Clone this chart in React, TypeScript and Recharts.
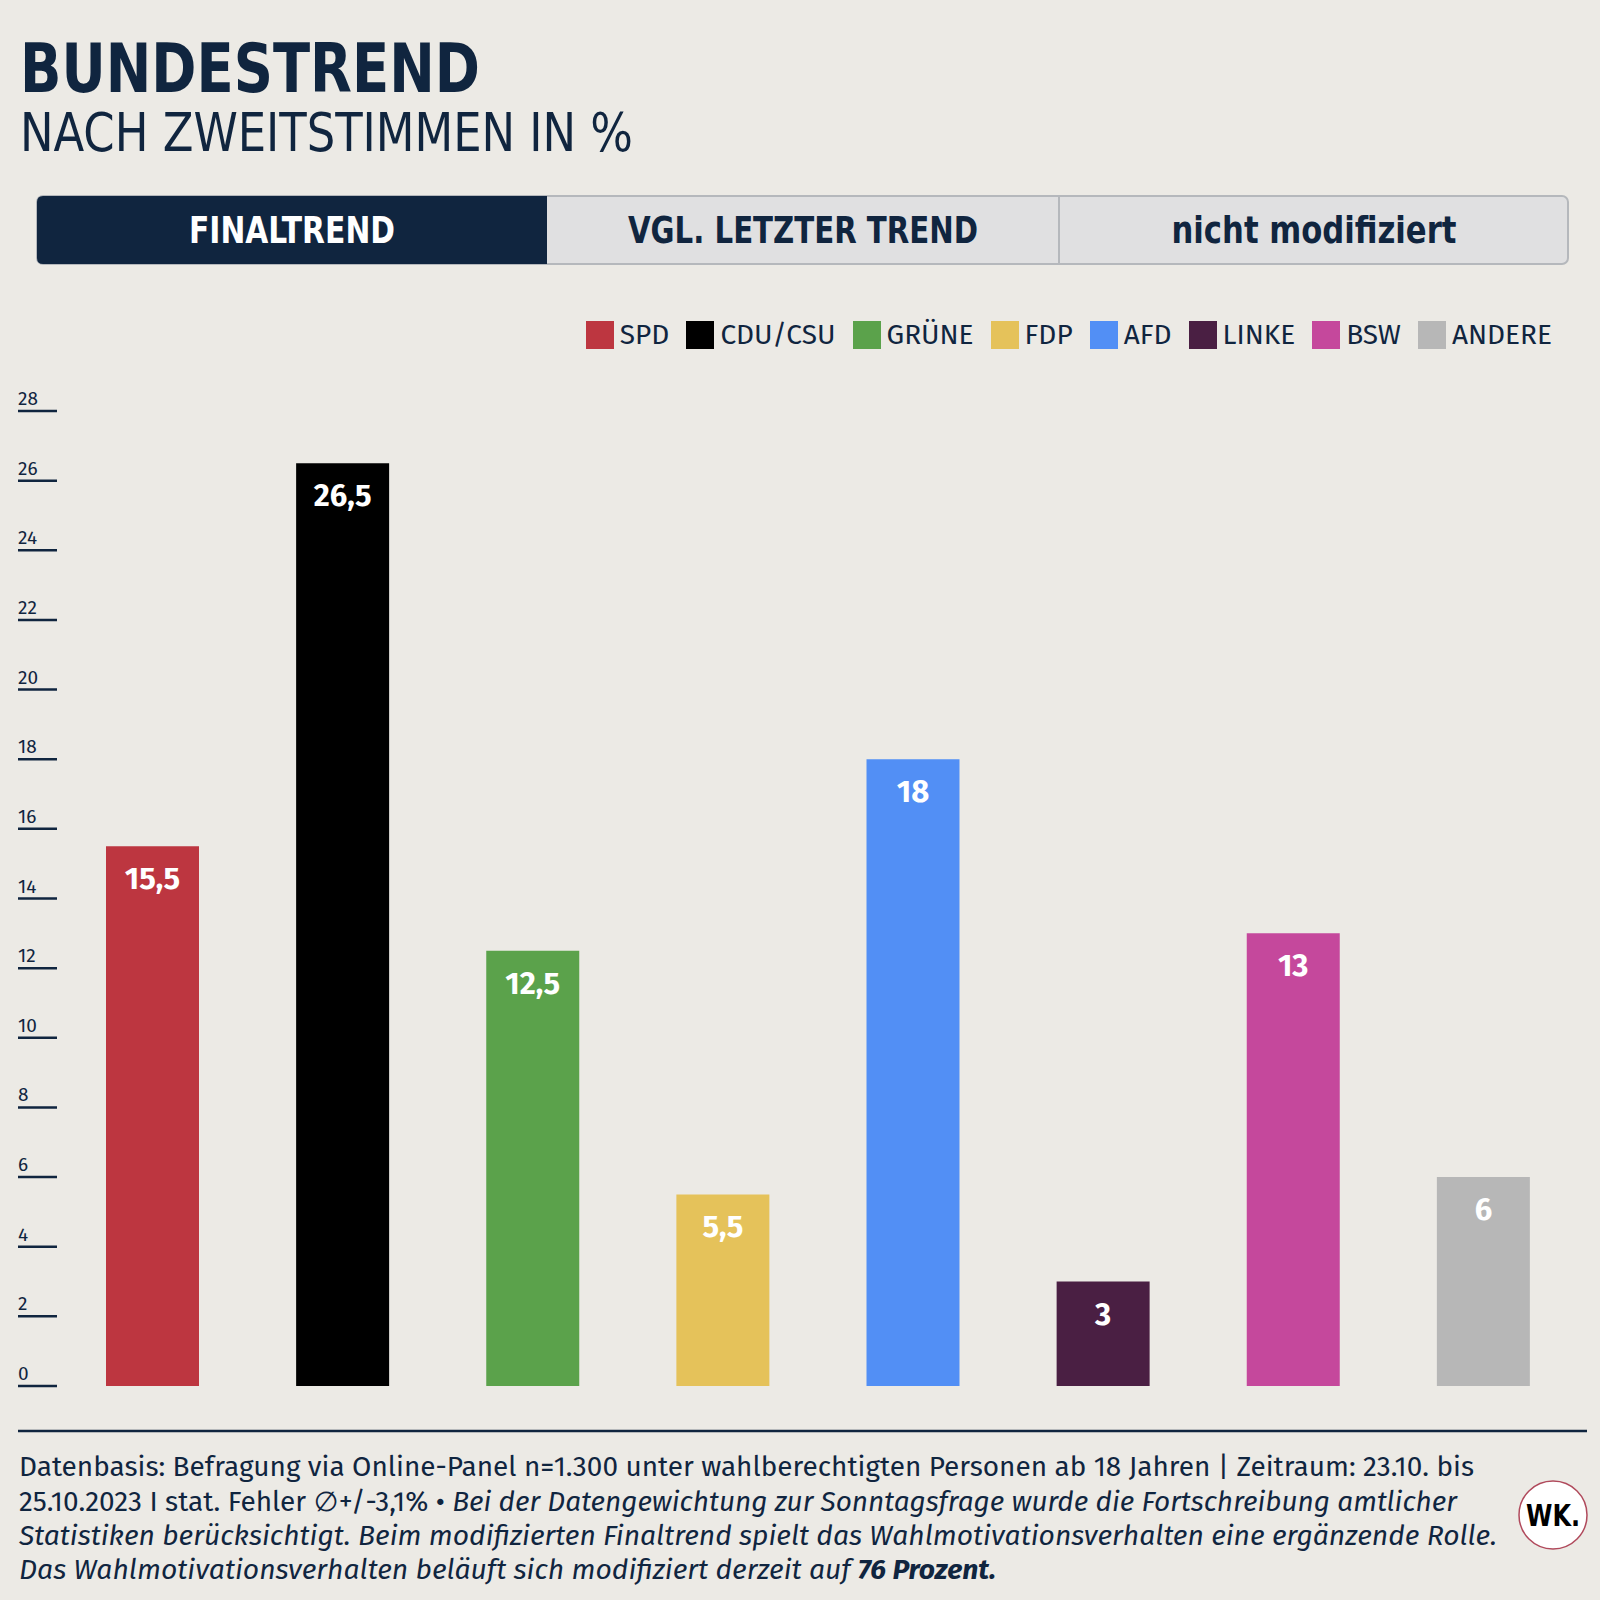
import { BarChart, Bar, XAxis, YAxis, Cell, LabelList } from 'recharts';

const parties = ['SPD', 'CDU/CSU', 'GRÜNE', 'FDP', 'AFD', 'LINKE', 'BSW', 'ANDERE'];
const shares = [15.5, 26.5, 12.5, 5.5, 18, 3, 13, 6];
const partyColors = ['#bd3640', '#000000', '#5ba24b', '#e5c25a', '#528ff5', '#4a1f43', '#c5489c', '#b7b7b7'];
const yTicks = [0, 2, 4, 6, 8, 10, 12, 14, 16, 18, 20, 22, 24, 26, 28];
const tabs = ['FINALTREND', 'VGL. LETZTER TREND', 'nicht modifiziert'];

const NAVY = '#10253f';
const BG = '#eceae5';
const HEAD = "'Liberation Sans Narrow', 'DejaVu Sans Condensed', Roboto, sans-serif";
const BODY = "'Fira Sans', Lato, 'Open Sans', sans-serif";

const data = parties.map((name, i) => ({ name, value: shares[i], color: partyColors[i] }));

// tick label sits above a short underline, like the original
const YTick = ({ y, payload }: any) => (
  <g>
    <text x={18} y={y - 6} fontSize={19} fill={NAVY} fontFamily={BODY}>
      {payload.value}
    </text>
    <line x1={18} x2={57} y1={y} y2={y} stroke={NAVY} strokeWidth={2.5} />
  </g>
);

const fmt = (v: any) => String(v).replace('.', ',');

const Legend = () => (
  <div
    style={{
      position: 'absolute',
      top: 321,
      right: 48,
      display: 'flex',
      gap: 17,
      fontFamily: BODY,
      fontSize: 28,
      color: NAVY,
      lineHeight: '28px',
    }}
  >
    {parties.map((p, i) => (
      <div key={p} style={{ display: 'flex', alignItems: 'center' }}>
        <span style={{ width: 28, height: 28, background: partyColors[i], marginRight: 6 }} />
        <span>{p}</span>
      </div>
    ))}
  </div>
);

const Overlay = () => (
  <svg width={1600} height={1600} style={{ position: 'absolute', left: 0, top: 0, pointerEvents: 'none' }}>
    <text x={20} y={92} fontFamily={HEAD} fontWeight={700} fontSize={68} fill={NAVY} textLength={460} lengthAdjust="spacingAndGlyphs">
      BUNDESTREND
    </text>
    <text x={20} y={151} fontFamily={HEAD} fontSize={54} fill={NAVY} textLength={613} lengthAdjust="spacingAndGlyphs">
      NACH ZWEITSTIMMEN IN %
    </text>

    {/* tab bar */}
    <rect x={37} y={196} width={1531} height={68} rx={6} fill="#e0e0e1" stroke="#b5b8bc" strokeWidth={2} />
    <path d="M43 196 H547 V264 H43 Q37 264 37 258 V202 Q37 196 43 196 Z" fill={NAVY} />
    <line x1={1059} x2={1059} y1={196} y2={264} stroke="#b5b8bc" strokeWidth={2} />
    <text x={292} y={243} textAnchor="middle" fontFamily={HEAD} fontWeight={700} fontSize={38} fill="#fff" textLength={206} lengthAdjust="spacingAndGlyphs">
      {tabs[0]}
    </text>
    <text x={803} y={243} textAnchor="middle" fontFamily={HEAD} fontWeight={700} fontSize={38} fill={NAVY} textLength={350} lengthAdjust="spacingAndGlyphs">
      {tabs[1]}
    </text>
    <text x={1314} y={243} textAnchor="middle" fontFamily={HEAD} fontWeight={700} fontSize={38} fill={NAVY} textLength={285} lengthAdjust="spacingAndGlyphs">
      {tabs[2]}
    </text>

    {/* footer */}
    <line x1={18} x2={1587} y1={1431} y2={1431} stroke={NAVY} strokeWidth={2.5} />
    <g fontFamily={BODY} fontSize={27} fill={NAVY}>
      <text x={19} y={1476} textLength={1455} lengthAdjust="spacingAndGlyphs">
        Datenbasis: Befragung via Online-Panel n=1.300 unter wahlberechtigten Personen ab 18 Jahren | Zeitraum: 23.10. bis
      </text>
      <text x={19} y={1510.5} textLength={1438} lengthAdjust="spacingAndGlyphs">
        25.10.2023 I stat. Fehler ∅+/-3,1% •{' '}
        <tspan fontStyle="italic">Bei der Datengewichtung zur Sonntagsfrage wurde die Fortschreibung amtlicher</tspan>
      </text>
      <text x={19} y={1545} fontStyle="italic" textLength={1478} lengthAdjust="spacingAndGlyphs">
        Statistiken berücksichtigt. Beim modifizierten Finaltrend spielt das Wahlmotivationsverhalten eine ergänzende Rolle.
      </text>
      <text x={19} y={1579} fontStyle="italic" textLength={977} lengthAdjust="spacingAndGlyphs">
        Das Wahlmotivationsverhalten beläuft sich modifiziert derzeit auf <tspan fontWeight={700}>76 Prozent.</tspan>
      </text>
    </g>

    {/* logo */}
    <circle cx={1553} cy={1515} r={34} fill="#fff" stroke="#b04a5c" strokeWidth={1.5} />
    <text x={1553} y={1526} textAnchor="middle" fontFamily={HEAD} fontWeight={700} fontSize={31} fill="#000" textLength={54} lengthAdjust="spacingAndGlyphs">
      WK.
    </text>
  </svg>
);

export default function App() {
  return (
    <div style={{ position: 'absolute', left: 0, top: 0, width: 1600, height: 1600, background: BG, overflow: 'hidden' }}>
      <div style={{ position: 'absolute', left: 0, top: 0 }}>
        <BarChart width={1600} height={1600} data={data} margin={{ top: 411, right: 22, left: 0, bottom: 214 }}>
          <XAxis dataKey="name" hide />
          <YAxis
            width={57}
            domain={[0, 28]}
            ticks={yTicks}
            interval={0}
            axisLine={false}
            tickLine={false}
            tick={<YTick />}
          />
          <Bar dataKey="value" barSize={93} isAnimationActive={false}>
            {data.map((d) => (
              <Cell key={d.name} fill={d.color} />
            ))}
            <LabelList
              dataKey="value"
              position="insideTop"
              offset={21}
              fill="#ffffff"
              fontSize={31}
              fontWeight={700}
              fontFamily={BODY}
              formatter={fmt}
            />
          </Bar>
        </BarChart>
      </div>
      <Legend />
      <Overlay />
    </div>
  );
}
